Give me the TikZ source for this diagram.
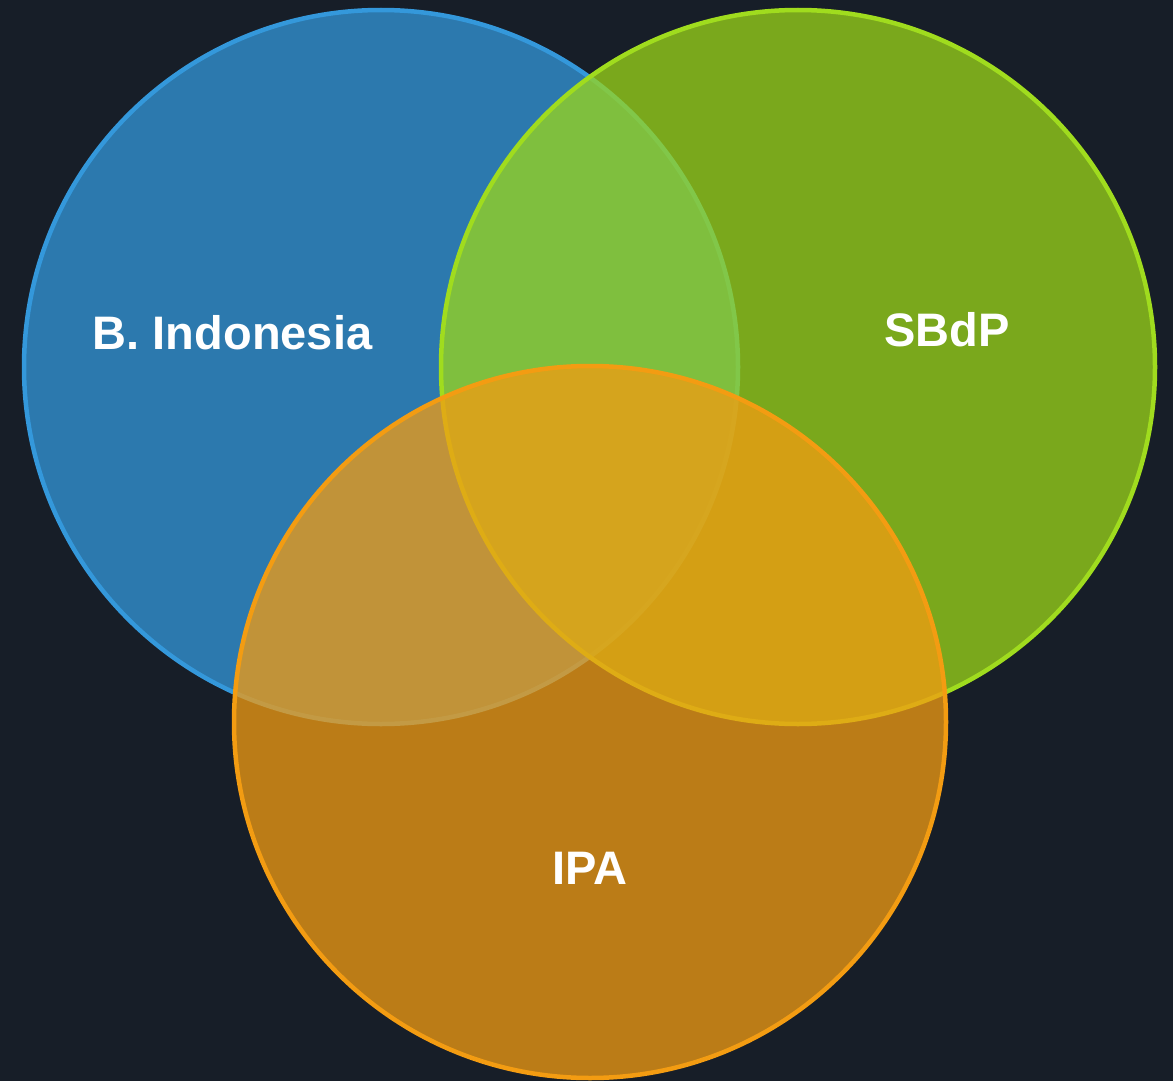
\documentclass[tikz,border=0pt]{standalone}
\usepackage{fontspec}
\setmainfont{Liberation Sans}
\definecolor{bgc}{RGB}{23,30,40}
\definecolor{cblue}{RGB}{52,152,219}
\definecolor{cgreen}{RGB}{156,215,25}
\definecolor{cgreenl}{RGB}{160,220,30}
\definecolor{corange}{RGB}{243,156,18}
\begin{document}
\begin{tikzpicture}[x=1pt,y=-1pt,
  setc/.style={line width=4.5pt,fill opacity=0.75},
  lbl/.style={text=white,font=\fontsize{47}{50}\selectfont\bfseries,inner sep=0pt,text height=0.716em,text depth=0pt}]
\fill[bgc] (0,0) rectangle (1173,1081);
\useasboundingbox (0,0) rectangle (1173,1081);
\draw[setc,draw=cblue,fill=cblue] (381,367) circle[radius=357];
\draw[setc,draw=cgreenl,fill=cgreen] (798,367) circle[radius=357];
\draw[setc,draw=corange,fill=corange] (590,722) circle[radius=356];
\node[lbl] (bi) at (232.5,346) {B. Indonesia};
\node[lbl] (sb) at (947,343) {SBdP};
\node[lbl] (ipa) at (590,881) {IPA};
\end{tikzpicture}
\end{document}
